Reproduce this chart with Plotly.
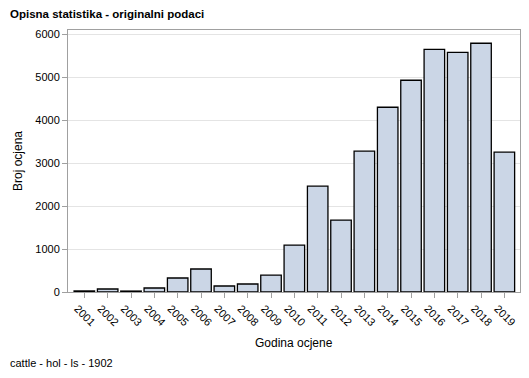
import plotly.graph_objects as go

years = ["2001", "2002", "2003", "2004", "2005", "2006", "2007", "2008", "2009", "2010",
         "2011", "2012", "2013", "2014", "2015", "2016", "2017", "2018", "2019"]
counts = [25, 70, 22, 93, 326, 535, 140, 186, 395, 1093,
          2465, 1674, 3279, 4302, 4930, 5651, 5581, 5791, 3256]
y_ticks = [0, 1000, 2000, 3000, 4000, 5000, 6000]

title_text = "Opisna statistika - originalni podaci"
footnote_text = "cattle - hol - ls - 1902"
x_title = "Godina ocjene"
y_title = "Broj ocjena"

fig = go.Figure(go.Bar(
    x=list(range(len(years))), y=counts,
    width=0.88,
    marker=dict(color="#cbd6e6", line=dict(color="#000000", width=1.3)),
    hoverinfo="x+y",
))

fam = "Liberation Sans, Arial, sans-serif"
axis_font = dict(family=fam, size=11, color="#000000")

fig.update_layout(
    width=529, height=378,
    margin=dict(l=68, r=9, t=30, b=86, autoexpand=False),
    paper_bgcolor="white", plot_bgcolor="white",
    showlegend=False,
    font=axis_font,
    annotations=[
        dict(text="<b>" + title_text + "</b>", xref="paper", yref="paper",
             x=0, y=1, xanchor="left", yanchor="middle",
             xshift=-60, yshift=16, showarrow=False,
             font=dict(family=fam, size=11.5, color="#000")),
        dict(text=footnote_text, xref="paper", yref="paper",
             x=0, y=0, xanchor="left", yanchor="middle",
             xshift=-60, yshift=-71, showarrow=False,
             font=dict(family=fam, size=11, color="#000")),
        dict(text=x_title, xref="paper", yref="paper",
             x=0.5, y=0, xanchor="center", yanchor="middle",
             yshift=-51, showarrow=False,
             font=dict(family=fam, size=12, color="#000")),
        dict(text=y_title, xref="paper", yref="paper",
             x=0, y=0.5, xanchor="center", yanchor="middle",
             xshift=-50, textangle=-90, showarrow=False,
             font=dict(family=fam, size=12, color="#000")),
    ],
)

fig.update_xaxes(
    tickmode="array", tickvals=list(range(len(years))), ticktext=years,
    tickangle=45, range=[-0.7, 18.67],
    showline=True, linecolor="#a0a0a0", linewidth=1, mirror=True,
    ticks="outside", ticklen=5, tickcolor="#a0a0a0",
    showgrid=False, zeroline=False, automargin=False,
    ticklabelshift=-7,
    tickfont=axis_font,
)
fig.update_yaxes(
    tickmode="array", tickvals=y_ticks,
    range=[0, 6100],
    showline=True, linecolor="#a0a0a0", linewidth=1, mirror=True,
    ticks="outside", ticklen=5, tickcolor="#a0a0a0",
    showgrid=True, gridcolor="#e4e4e4", gridwidth=1, zeroline=False,
    automargin=False,
    tickfont=axis_font,
)

fig.write_html("out.html", config={"displayModeBar": False},
               post_script="document.body.style.margin='0';")
